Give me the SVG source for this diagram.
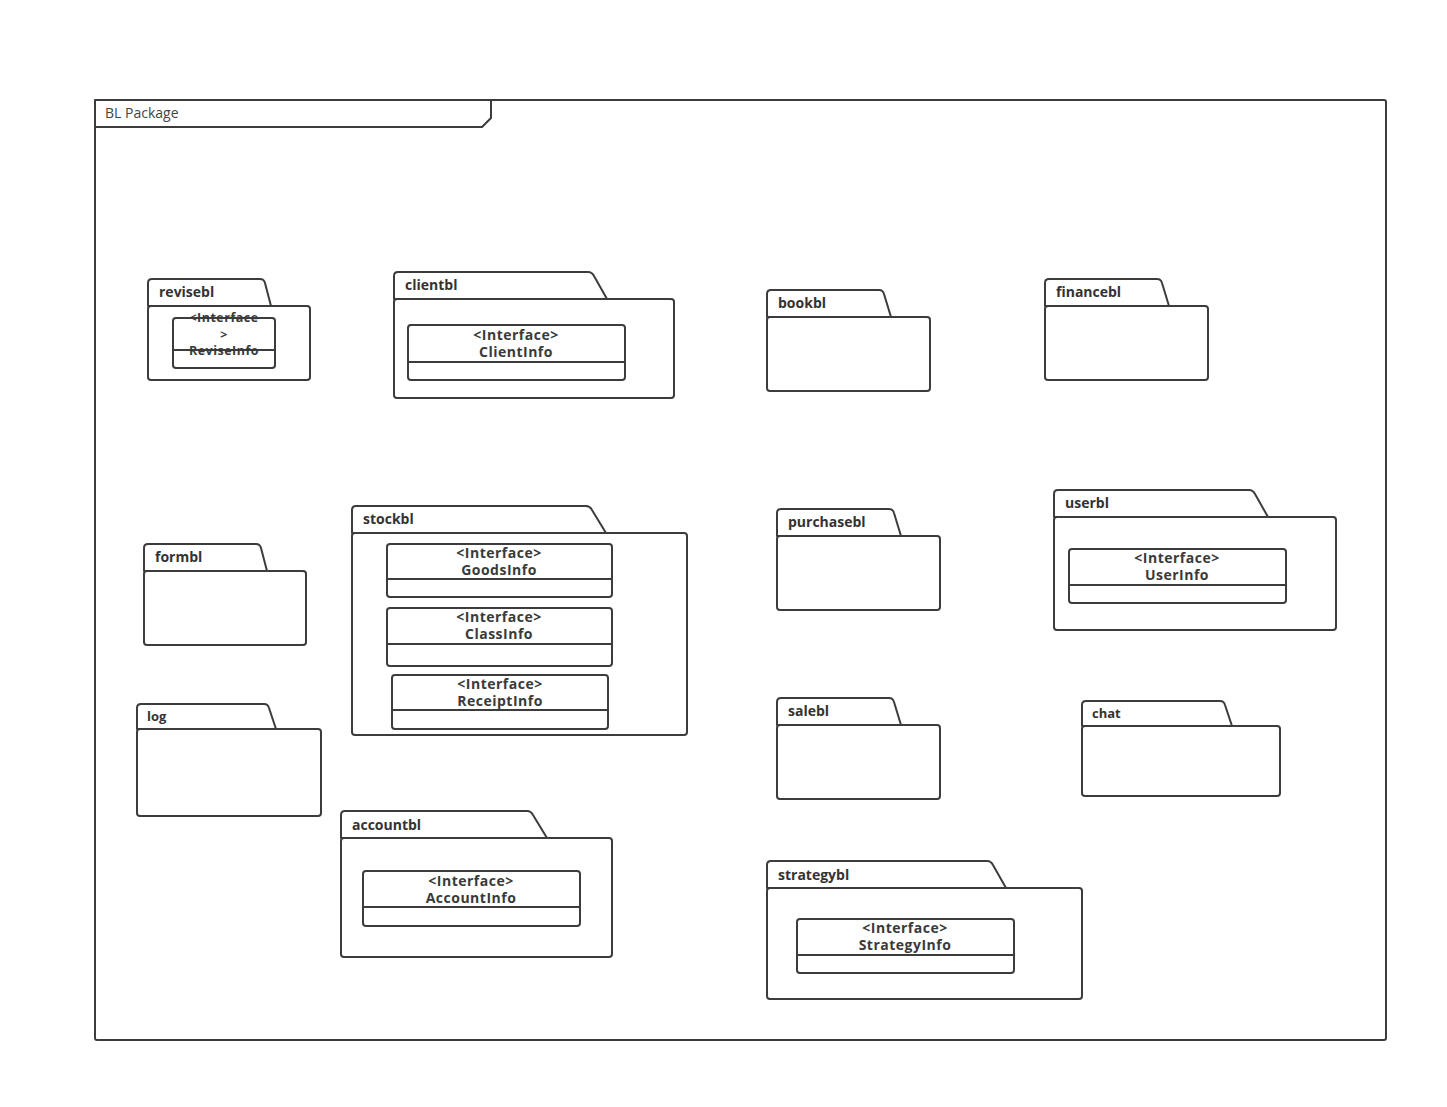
<svg xmlns="http://www.w3.org/2000/svg" width="1447" height="1107" viewBox="0 0 1447 1107">
<style>
.ln{fill:#fff;stroke:#3c3c3c;stroke-width:2;stroke-linejoin:round}
.dv{stroke:#3c3c3c;stroke-width:2}
.pl{font-family:"Open Sans","Liberation Sans",sans-serif;font-size:14px;font-weight:bold;fill:#333}
.it{font-family:"Open Sans","Liberation Sans",sans-serif;font-size:14px;font-weight:bold;fill:#3a3a3a;text-anchor:middle;letter-spacing:0.5px}
.sm{font-size:12.5px}
.fl{font-family:"Open Sans","Liberation Sans",sans-serif;font-size:14px;fill:#444}
</style>
<rect width="1447" height="1107" fill="#fff"/>
<g id="frame">
<rect class="ln" x="95" y="100" width="1291" height="940" rx="2"/>
<path class="ln" d="M95,100 H491 V118 L482,127 H95 Z"/>
<text class="fl" x="105" y="118">BL Package</text>
</g>
<g id="revisebl">
<path class="ln" d="M148,306 V283 Q148,279 152,279 H260 Q264,279 265,283 L271,306 Z"/>
<rect class="ln" x="148" y="306" width="162" height="74" rx="3"/>
<text class="pl" x="159" y="297">revisebl</text>
<rect class="ln" x="173" y="318" width="102" height="50" rx="3"/>
<line class="dv" x1="173" y1="350" x2="275" y2="350"/>
<text class="it sm" x="224" y="322">&lt;Interface</text>
<text class="it sm" x="224" y="339">&gt;</text>
<text class="it sm" x="224" y="355">ReviseInfo</text>
</g>
<g id="clientbl">
<path class="ln" d="M394,299 V276 Q394,272 398,272 H588 Q592,272 594,276 L607,299 Z"/>
<rect class="ln" x="394" y="299" width="280" height="99" rx="3"/>
<text class="pl" x="405" y="290">clientbl</text>
<rect class="ln" x="408" y="325" width="217" height="55" rx="3"/>
<line class="dv" x1="408" y1="362" x2="625" y2="362"/>
<text class="it" x="516" y="340">&lt;Interface&gt;</text>
<text class="it" x="516" y="357">ClientInfo</text>
</g>
<g id="bookbl">
<path class="ln" d="M767,317 V294 Q767,290 771,290 H879 Q883,290 884,294 L891,317 Z"/>
<rect class="ln" x="767" y="317" width="163" height="74" rx="3"/>
<text class="pl" x="778" y="308">bookbl</text>
</g>
<g id="financebl">
<path class="ln" d="M1045,306 V283 Q1045,279 1049,279 H1157 Q1161,279 1162,283 L1169,306 Z"/>
<rect class="ln" x="1045" y="306" width="163" height="74" rx="3"/>
<text class="pl" x="1056" y="297">financebl</text>
</g>
<g id="formbl">
<path class="ln" d="M144,571 V548 Q144,544 148,544 H256 Q260,544 261,548 L267,571 Z"/>
<rect class="ln" x="144" y="571" width="162" height="74" rx="3"/>
<text class="pl" x="155" y="562">formbl</text>
</g>
<g id="stockbl">
<path class="ln" d="M352,533 V510 Q352,506 356,506 H586 Q590,506 592,510 L606,533 Z"/>
<rect class="ln" x="352" y="533" width="335" height="202" rx="3"/>
<text class="pl" x="363" y="524">stockbl</text>
<rect class="ln" x="387" y="544" width="225" height="53" rx="3"/>
<line class="dv" x1="387" y1="579" x2="612" y2="579"/>
<text class="it" x="499" y="558">&lt;Interface&gt;</text>
<text class="it" x="499" y="575">GoodsInfo</text>
<rect class="ln" x="387" y="608" width="225" height="58" rx="3"/>
<line class="dv" x1="387" y1="644" x2="612" y2="644"/>
<text class="it" x="499" y="622">&lt;Interface&gt;</text>
<text class="it" x="499" y="639">ClassInfo</text>
<rect class="ln" x="392" y="675" width="216" height="54" rx="3"/>
<line class="dv" x1="392" y1="710" x2="608" y2="710"/>
<text class="it" x="500" y="689">&lt;Interface&gt;</text>
<text class="it" x="500" y="706">ReceiptInfo</text>
</g>
<g id="purchasebl">
<path class="ln" d="M777,536 V513 Q777,509 781,509 H889 Q893,509 894,513 L901,536 Z"/>
<rect class="ln" x="777" y="536" width="163" height="74" rx="3"/>
<text class="pl" x="788" y="527">purchasebl</text>
</g>
<g id="userbl">
<path class="ln" d="M1054,517 V494 Q1054,490 1058,490 H1249 Q1253,490 1255,494 L1268,517 Z"/>
<rect class="ln" x="1054" y="517" width="282" height="113" rx="3"/>
<text class="pl" x="1065" y="508">userbl</text>
<rect class="ln" x="1069" y="549" width="217" height="54" rx="3"/>
<line class="dv" x1="1069" y1="585" x2="1286" y2="585"/>
<text class="it" x="1177" y="563">&lt;Interface&gt;</text>
<text class="it" x="1177" y="580">UserInfo</text>
</g>
<g id="log">
<path class="ln" d="M137,729 V708 Q137,704 141,704 H264 Q268,704 269,708 L276,729 Z"/>
<rect class="ln" x="137" y="729" width="184" height="87" rx="3"/>
<text class="pl" x="147" y="721" style="font-size:13px">log</text>
</g>
<g id="salebl">
<path class="ln" d="M777,725 V702 Q777,698 781,698 H889 Q893,698 894,702 L901,725 Z"/>
<rect class="ln" x="777" y="725" width="163" height="74" rx="3"/>
<text class="pl" x="788" y="716">salebl</text>
</g>
<g id="chat">
<path class="ln" d="M1082,726 V705 Q1082,701 1086,701 H1220 Q1224,701 1225,705 L1232,726 Z"/>
<rect class="ln" x="1082" y="726" width="198" height="70" rx="3"/>
<text class="pl" x="1092" y="718" style="font-size:13px">chat</text>
</g>
<g id="accountbl">
<path class="ln" d="M341,838 V815 Q341,811 345,811 H527 Q531,811 533,815 L547,838 Z"/>
<rect class="ln" x="341" y="838" width="271" height="119" rx="3"/>
<text class="pl" x="352" y="830">accountbl</text>
<rect class="ln" x="363" y="871" width="217" height="55" rx="3"/>
<line class="dv" x1="363" y1="907" x2="580" y2="907"/>
<text class="it" x="471" y="886">&lt;Interface&gt;</text>
<text class="it" x="471" y="903">AccountInfo</text>
</g>
<g id="strategybl">
<path class="ln" d="M767,888 V865 Q767,861 771,861 H987 Q991,861 993,865 L1006,888 Z"/>
<rect class="ln" x="767" y="888" width="315" height="111" rx="3"/>
<text class="pl" x="778" y="880">strategybl</text>
<rect class="ln" x="797" y="919" width="217" height="54" rx="3"/>
<line class="dv" x1="797" y1="955" x2="1014" y2="955"/>
<text class="it" x="905" y="933">&lt;Interface&gt;</text>
<text class="it" x="905" y="950">StrategyInfo</text>
</g>
<g id="connectors"></g>
</svg>
